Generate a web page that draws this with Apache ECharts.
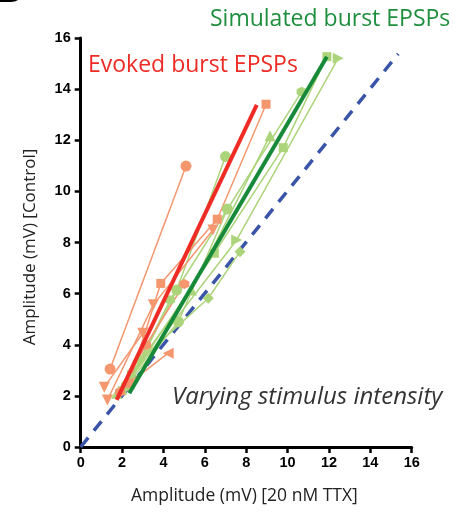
<!DOCTYPE html>
<html>
<head>
<meta charset="utf-8">
<script src="https://cdn.jsdelivr.net/npm/echarts@6/dist/echarts.min.js"></script>
<style>html,body{margin:0;padding:0;background:#fff}#c{width:458px;height:512px}</style>
</head>
<body>
<div id="c"></div>
<script>
// Axis ticks
const xTicks = [0, 2, 4, 6, 8, 10, 12, 14, 16];
const yTicks = [0, 2, 4, 6, 8, 10, 12, 14, 16];

// Evoked burst EPSPs (individual cells) [TTX, Control]
const evCircle   = [[1.42, 3.05], [5.09, 10.99]];
const evTriDownA = [[1.29, 1.84], [3.51, 5.56], [6.39, 8.49]];
const evTriDownB = [[1.14, 2.34], [3.00, 4.45]];
const evSquare   = [[2.33, 2.49], [3.87, 6.40], [6.60, 8.91], [8.96, 13.41]];
const evHex      = [[1.90, 2.15], [3.16, 3.99], [5.01, 6.38]];
const evTriLeft  = [[2.33, 2.49], [4.23, 3.67]];

// Simulated burst EPSPs (individual cells)
const gSquare   = [[2.00, 2.20], [6.46, 7.58], [9.79, 11.71], [11.90, 15.27]];
const gTriRight = [[2.50, 2.80], [7.54, 8.10], [12.45, 15.21]];
const gTriUp    = [[1.74, 2.10], [5.36, 6.14], [9.15, 12.18]];
const gHex      = [[2.30, 2.50], [4.32, 5.75], [10.68, 13.90]];
const gDiamond  = [[2.87, 3.40], [6.17, 5.82], [7.70, 7.64]];
const gCircle   = [[2.40, 2.60], [4.64, 6.14], [7.00, 11.36]];
const gCircle2  = [[2.20, 2.40], [4.72, 4.90], [7.09, 9.31]];

// Fits and identity line
const evokedFit = [[1.74, 1.84], [8.51, 13.38]];
const simFit    = [[2.35, 2.10], [11.90, 15.27]];
const identity  = [[0, 0], [15.35, 15.38]];

const ORANGE = '#f4966e';
const LGREEN = '#acd47a';
const HEX = 'path://M0,-1L0.87,-0.5L0.87,0.5L0,1L-0.87,0.5L-0.87,-0.5Z';

function thin(data, color, symbol, rot, size) {
  return {
    type: 'line', data: data, symbol: symbol, symbolSize: size || 10,
    symbolRotate: rot || 0, showSymbol: true,
    lineStyle: { color: color, width: 1.5 },
    itemStyle: { color: color }, z: 3, silent: true, animation: false
  };
}
function thick(data, color) {
  return {
    type: 'line', data: data, symbol: 'none',
    lineStyle: { color: color, width: 4 }, z: 5, silent: true, animation: false
  };
}

const chart = echarts.init(document.getElementById('c'), null, { renderer: 'canvas' });
chart.setOption({
  backgroundColor: '#fff',
  animation: false,
  grid: { left: 80.7, right: 46.3, top: 38, bottom: 65 },
  xAxis: {
    type: 'value', min: 0, max: 16, interval: 2,
    axisLine: { show: true, onZero: false, lineStyle: { color: '#000', width: 3 } },
    axisTick: { show: true, length: 6, lineStyle: { color: '#000', width: 2.5 } },
    axisLabel: { color: '#000', fontFamily: 'Liberation Sans', fontWeight: 'bold', fontSize: 14.5, margin: 8,
      formatter: v => xTicks.includes(v) ? String(v) : '' },
    splitLine: { show: false }
  },
  yAxis: {
    type: 'value', min: 0, max: 16, interval: 2,
    axisLine: { show: true, onZero: false, lineStyle: { color: '#000', width: 3 } },
    axisTick: { show: true, length: 6, lineStyle: { color: '#000', width: 2.5 } },
    axisLabel: { color: '#000', fontFamily: 'Liberation Sans', fontWeight: 'bold', fontSize: 14.5, margin: 10,
      formatter: v => yTicks.includes(v) ? String(v) : '' },
    splitLine: { show: false }
  },
  series: [
    { type: 'line', data: identity, symbol: 'none', z: 2, silent: true,
      lineStyle: { color: '#3a55a8', width: 3.5, type: [12, 9] } },
    thin(gSquare, LGREEN, 'rect', 0, 9),
    thin(gTriRight, LGREEN, 'triangle', -90, 11),
    thin(gTriUp, LGREEN, 'triangle', 0, 11),
    thin(gHex, LGREEN, HEX, 0, 10),
    thin(gDiamond, LGREEN, 'diamond', 0, 11),
    thin(gCircle, LGREEN, 'circle', 0, 11),
    thin(gCircle2, LGREEN, 'circle', 0, 11),
    thin(evCircle, ORANGE, 'circle', 0, 11),
    thin(evTriDownA, ORANGE, 'triangle', 180, 11),
    thin(evTriDownB, ORANGE, 'triangle', 180, 11),
    thin(evSquare, ORANGE, 'rect', 0, 9),
    thin(evHex, ORANGE, HEX, 0, 10),
    thin(evTriLeft, ORANGE, 'triangle', 90, 11),
    thick(simFit, '#178a3a'),
    thick(evokedFit, '#ee2b25')
  ],
  graphic: [
    { type: 'text', left: -3, top: -24, style: { text: 'B', fontFamily: 'Liberation Sans', fontWeight: 'bold', fontSize: 34, fill: '#000' } },
    { type: 'text', left: 88, top: 54, style: { text: 'Evoked burst EPSPs', fontFamily: 'Open Sans', fontSize: 23, fill: '#ee2b25' } },
    { type: 'text', left: 210, top: 8, style: { text: 'Simulated burst EPSPs', fontFamily: 'Open Sans', fontSize: 23, fill: '#1f8f3e' } },
    { type: 'text', left: 172, top: 385, style: { text: 'Varying stimulus intensity', fontFamily: 'Open Sans', fontStyle: 'italic', fontSize: 24, fill: '#333' } },
    { type: 'text', left: 131, top: 487, style: { text: 'Amplitude (mV) [20 nM TTX]', fontFamily: 'Open Sans', fontSize: 17.5, fill: '#222' } },
    { type: 'text', x: 30, y: 247, rotation: Math.PI / 2,
      style: { text: 'Amplitude (mV) [Control]', fontFamily: 'Open Sans', fontSize: 17, fill: '#222', align: 'center', verticalAlign: 'middle' } }
  ]
});
</script>
</body>
</html>
